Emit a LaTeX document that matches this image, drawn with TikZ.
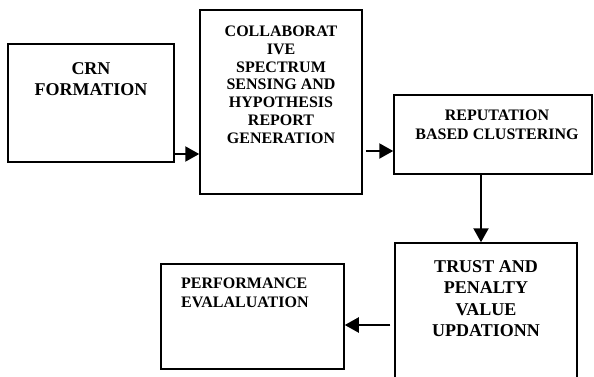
\documentclass[tikz,border=0pt]{standalone}
\usepackage{fontspec}
\setmainfont{Liberation Serif}
\usetikzlibrary{arrows.meta, positioning, calc}

\begin{document}
\begin{tikzpicture}[
    x=1pt, y=-1pt,
    stage/.style={draw, line width=1.5pt, rectangle, inner sep=0pt},
    bigtxt/.style={font=\fontsize{18}{21.5}\selectfont\bfseries, align=center, anchor=north, inner sep=0pt},
    smalltxt/.style={font=\fontsize{16}{18.5}\selectfont\bfseries, align=center, anchor=north, inner sep=0pt},
    arrow/.style={-{Triangle[length=14pt, width=15pt]}, line width=2.2pt}
]
\useasboundingbox (0,0) rectangle (594,376);

% Stages
\node[stage, minimum width=166pt, minimum height=118pt] (crn) at (91,103) {};
\node[stage, minimum width=162pt, minimum height=184pt] (collab) at (281,102) {};
\node[stage, minimum width=198pt, minimum height=79pt] (rep) at (493,134.5) {};
\node[stage, minimum width=182pt, minimum height=137pt] (trust) at (486,311.5) {};
\node[stage, minimum width=183pt, minimum height=105pt] (perf) at (252.5,316.5) {};

% Texts
\node[bigtxt] (crntxt) at (91,62) {CRN\\FORMATION};
\node[smalltxt, font=\fontsize{16}{17.7}\selectfont\bfseries] (collabtxt) at (281,26) {COLLABORAT\\IVE\\SPECTRUM\\SENSING AND\\HYPOTHESIS\\REPORT\\GENERATION};
\node[smalltxt] (reptxt) at (497,110) {REPUTATION\\BASED CLUSTERING};
\node[bigtxt] (trusttxt) at (486,260) {TRUST AND\\PENALTY\\VALUE\\UPDATIONN};
\node[smalltxt, align=left, anchor=north west, font=\fontsize{16}{19}\selectfont\bfseries] (perftxt) at (181,278) {PERFORMANCE\\EVALALUATION};

% Flow
\coordinate (a1) at ([yshift=-51pt]crn.east);
\coordinate (a2) at ([xshift=3pt, yshift=-49pt]collab.east);
\coordinate (a4) at ([xshift=-4pt, yshift=-13.5pt]trust.west);
\draw[arrow] (a1) -- (a1 -| collab.west);
\draw[arrow] (a2) -- (a2 -| rep.west);
\draw[arrow] ([xshift=-12pt]rep.south) -- ([xshift=-5pt]trust.north);
\draw[arrow] (a4) -- (a4 -| perf.east);

\end{tikzpicture}
\end{document}
